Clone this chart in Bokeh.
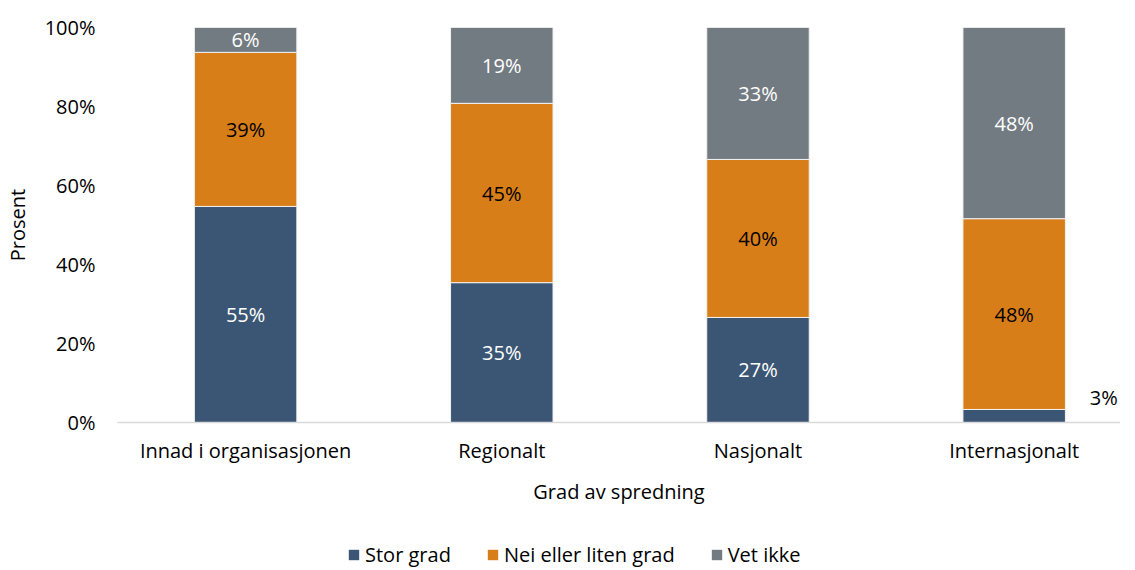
from bokeh.plotting import figure
from bokeh.layouts import column
from bokeh.models import (ColumnDataSource, Range1d, FixedTicker, PrintfTickFormatter,
                          Legend, LegendItem)
from bokeh.core.properties import value
from bokeh.embed import file_html
from bokeh.resources import INLINE

categories = ["Innad i organisasjonen", "Regionalt", "Nasjonalt", "Internasjonalt"]
stor_grad = [54.7, 35.4, 26.6, 3.3]
nei_liten = [39.0, 45.4, 40.0, 48.3]
vet_ikke = [6.3, 19.2, 33.4, 48.4]
series_names = ["Stor grad", "Nei eller liten grad", "Vet ikke"]
colors = ["#3A5674", "#D87E18", "#737B82"]
label_colors = ["white", "black", "white"]
y_ticks = [0, 20, 40, 60, 80, 100]

FONT = "Open Sans"
FS = "20px"

xs = [i + 0.5 for i in range(len(categories))]

p = figure(width=1120, height=534, output_backend="svg", toolbar_location=None,
           x_range=Range1d(0, 3.915), y_range=Range1d(0, 100),
           min_border_left=110, min_border_right=0, min_border_top=27,
           min_border_bottom=112)
p.outline_line_color = None
p.grid.visible = False
p.background_fill_color = "white"
p.border_fill_color = "white"

series = [stor_grad, nei_liten, vet_ikke]
bottom = [0.0] * len(categories)
for name, vals, col, lc in zip(series_names, series, colors, label_colors):
    top = [b + v for b, v in zip(bottom, vals)]
    src = ColumnDataSource(dict(x=xs, bottom=bottom, top=top))
    p.vbar(x="x", bottom="bottom", top="top", width=0.4, source=src,
           fill_color=col, line_color="#F2F2F2", line_width=1)
    lx, ly, lt, lcol = [], [], [], []
    for x, b, v in zip(xs, bottom, vals):
        if v < 5:
            lx.append(x + 0.35)
            ly.append(v + 3)
            lcol.append("black")
        else:
            lx.append(x)
            ly.append(b + v / 2)
            lcol.append(lc)
        lt.append(f"{round(v)}%")
    lsrc = ColumnDataSource(dict(x=lx, y=ly, t=lt, c=lcol))
    p.text(x="x", y="y", text="t", source=lsrc, text_color="c",
           text_align="center", text_baseline="middle",
           text_font=value(FONT), text_font_size=FS)
    bottom = top

p.xaxis.ticker = FixedTicker(ticks=xs)
p.xaxis.major_label_overrides = {x: c for x, c in zip(xs, categories)}
p.xaxis.major_tick_line_color = None
p.xaxis.minor_tick_line_color = None
p.xaxis.axis_line_color = "#D9D9D9"
p.xaxis.axis_line_width = 1.5
p.xaxis.major_label_standoff = 8
p.xaxis.axis_label = "Grad av spredning"
p.xaxis.axis_label_standoff = 11

p.yaxis.ticker = FixedTicker(ticks=y_ticks)
p.yaxis.formatter = PrintfTickFormatter(format="%d%%")
p.yaxis.major_tick_line_color = None
p.yaxis.minor_tick_line_color = None
p.yaxis.axis_line_color = None
p.yaxis.major_label_standoff = 16
p.yaxis.axis_label = "Prosent"
p.yaxis.axis_label_standoff = 11

for ax in (p.xaxis, p.yaxis):
    ax.major_label_text_font = FONT
    ax.major_label_text_font_size = FS
    ax.major_label_text_color = "black"
    ax.axis_label_text_font = FONT
    ax.axis_label_text_font_size = FS
    ax.axis_label_text_font_style = "normal"
    ax.axis_label_text_color = "black"

# legend strip below the chart
pl = figure(width=1120, height=34, output_backend="svg", toolbar_location=None,
            x_axis_type=None, y_axis_type=None,
            x_range=Range1d(0, 1), y_range=Range1d(0, 1),
            min_border_left=0, min_border_right=0, min_border_top=0,
            min_border_bottom=0)
pl.outline_line_color = None
pl.grid.visible = False
items = []
for name, col in zip(series_names, colors):
    # placeholder glyph outside the visible range, only used for the legend swatch
    r = pl.vbar(x=[5], bottom=[5], top=[6], width=0.1, fill_color=col, line_color=None)
    items.append(LegendItem(label=name, renderers=[r]))
legend = Legend(items=items, orientation="horizontal", location=(230, 0),
                padding=0, margin=0, spacing=35, label_standoff=5,
                glyph_width=13, glyph_height=13,
                border_line_color=None, background_fill_alpha=0,
                label_text_font=FONT, label_text_font_size=FS,
                label_text_color="black")
pl.add_layout(legend, "center")

layout = column(p, pl, spacing=0)
open("out.html", "w").write(file_html(layout, INLINE))
